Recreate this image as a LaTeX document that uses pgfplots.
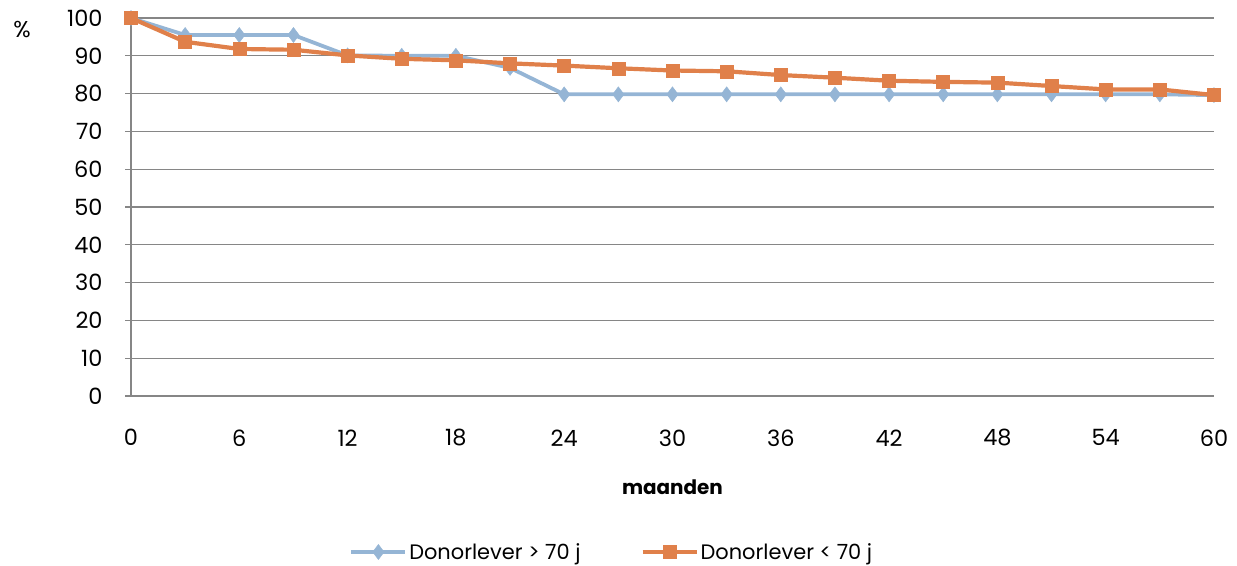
\documentclass[border=0pt]{standalone}
\usepackage{pgfplots}
\pgfplotsset{compat=1.18}
\usepackage{fontspec}
\setmainfont{Poppins}
\definecolor{cblue}{HTML}{95B5D5}
\definecolor{corange}{HTML}{E0804A}
\definecolor{cgrid}{HTML}{868686}
\begin{document}
\begin{tikzpicture}[x=1bp,y=1bp]
\useasboundingbox (0,0) rectangle (1237,566);
\begin{axis}[
  at={(131bp,170bp)}, anchor=south west,
  scale only axis, width=1083bp, height=378bp,
  xmin=0, xmax=60, ymin=0, ymax=100,
  xtick={0,6,...,60}, ytick={0,10,...,100},
  axis lines=left, axis line style={-, cgrid, line width=1.6bp},
  ymajorgrids, grid style={cgrid, line width=1.3bp},
  x tick style={draw=none},
  y tick style={cgrid, line width=1.3bp},
  tick align=outside, major tick length=6bp,
  tick label style={font=\fontsize{22.5}{26}\selectfont},
  /pgf/number format/assume math mode=true,
  xticklabel style={yshift=-24bp},
  yticklabel style={xshift=-19bp},
  xlabel={\bfseries maanden},
  xlabel style={font=\fontsize{20}{24}\selectfont, at={(axis description cs:0.5,0)}, anchor=center, yshift=-91bp},
  clip=false,
  legend columns=2,
  legend style={at={(0.444,-0.4127)}, anchor=center, draw=none, font=\fontsize{21}{24}\selectfont,
    /tikz/every even column/.append style={column sep=58bp}},
  legend image code/.code={\draw[#1] (0bp,0bp) -- (27bp,0bp) plot coordinates {(27bp,0bp)} -- (54bp,0bp);},
]
\addplot[cblue, line width=3.8bp, mark=diamond*, mark size=7.5bp, mark options={line width=0.5bp}] coordinates {
(0,100) (3,95.5) (6,95.5) (9,95.5) (12,90.1) (15,90.0) (18,90.0) (21,86.8) (24,79.8) (27,79.8) (30,79.8) (33,79.8) (36,79.8) (39,79.8) (42,79.8) (45,79.8) (48,79.8) (51,79.8) (54,79.8) (57,79.8) (60,79.6)};
\addlegendentry{Donorlever > 70 j}
\addplot[corange, line width=4.2bp, mark=square*, mark size=6.5bp, mark options={line width=0.5bp}] coordinates {
(0,100) (3,93.7) (6,91.8) (9,91.6) (12,90.1) (15,89.2) (18,88.8) (21,88.0) (24,87.4) (27,86.7) (30,86.1) (33,85.9) (36,84.9) (39,84.2) (42,83.4) (45,83.1) (48,82.9) (51,82.0) (54,81.1) (57,81.1) (60,79.6)};
\addlegendentry{Donorlever < 70 j}
\end{axis}
\node[font=\fontsize{23}{26}\selectfont] at (22,536) {\%};
\end{tikzpicture}
\end{document}
